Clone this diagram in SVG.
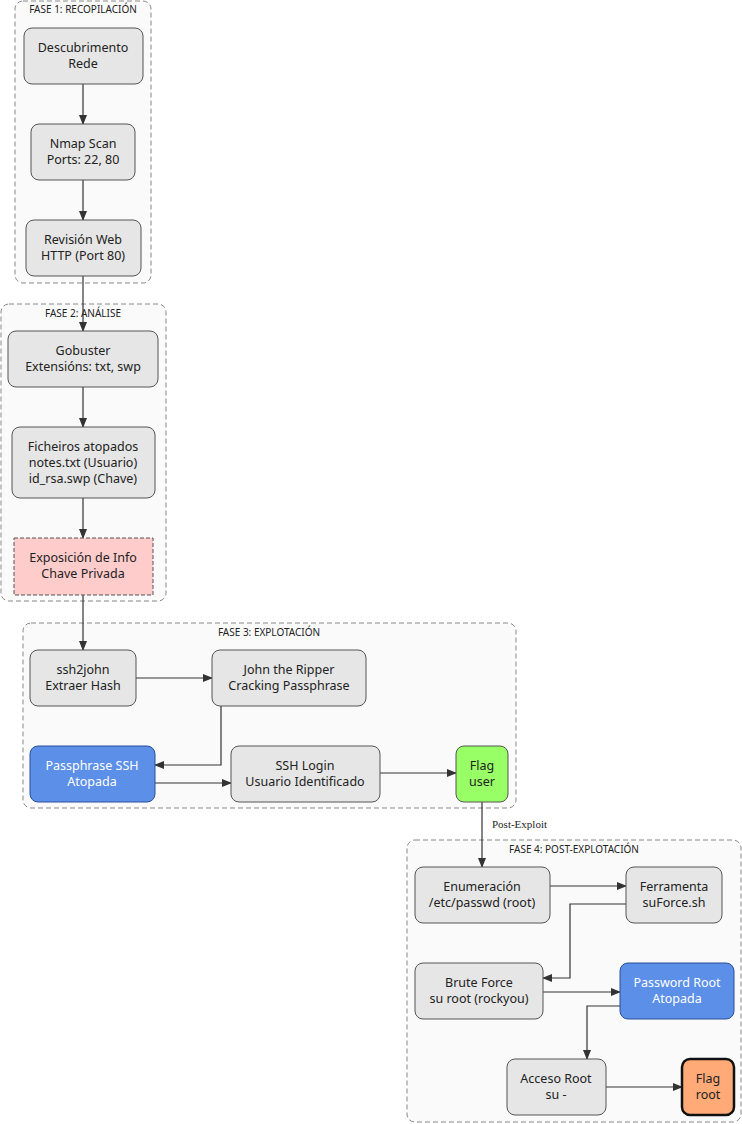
<svg xmlns="http://www.w3.org/2000/svg" width="742" height="1124" viewBox="0 0 742 1124">
<defs>
<marker id="ah" markerWidth="10" markerHeight="8" refX="9" refY="4" orient="auto" markerUnits="userSpaceOnUse"><path d="M0,0 L10,4 L0,8 z" fill="#333"/></marker>
<style>
.cl{fill:#fafafa;stroke:#888;stroke-dasharray:5,3;stroke-width:1}
.cll{font-family:"Noto Sans","DejaVu Sans",sans-serif;font-size:10px;fill:#222;text-anchor:middle}
.n{fill:#e6e6e6;stroke:#555;stroke-width:1}
.t{font-family:"Noto Sans","DejaVu Sans",sans-serif;font-size:12.5px;fill:#222;text-anchor:middle}
.w{fill:#fff}
.e{fill:none;stroke:#333;stroke-width:1.2;marker-end:url(#ah)}
</style>
</defs>
<rect width="742" height="1124" fill="#fff"/>
<g id="clusters">
<rect class="cl" x="15" y="1" width="136" height="282" rx="8"/><text class="cll" x="83" y="13">FASE 1: RECOPILACIÓN</text>
<rect class="cl" x="1" y="304" width="165" height="297" rx="8"/><text class="cll" x="83" y="317">FASE 2: ANÁLISE</text>
<rect class="cl" x="23" y="623" width="493" height="185" rx="8"/><text class="cll" x="269" y="636">FASE 3: EXPLOTACIÓN</text>
<rect class="cl" x="407" y="840" width="334" height="282" rx="8"/><text class="cll" x="574" y="853">FASE 4: POST-EXPLOTACIÓN</text>
</g>
<g id="edges">
<path class="e" d="M83,84 V124"/>
<path class="e" d="M83,180 V220"/>
<path class="e" d="M83,276 V331"/>
<path class="e" d="M83,387 V427"/>
<path class="e" d="M83,498 V538"/>
<path class="e" d="M83,595 V650"/>
<path class="e" d="M136,678 H212"/>
<path class="e" d="M221,706 V765 H155"/>
<path class="e" d="M155,783 H231"/>
<path class="e" d="M380,773 H456"/>
<path class="e" d="M482,802 V867"/>
<text x="492" y="828" font-family="Liberation Serif, serif" font-size="11" fill="#222">Post-Exploit</text>
<path class="e" d="M550,886 H626"/>
<path class="e" d="M626,904 H570 V978 H543"/>
<path class="e" d="M543,992 H620"/>
<path class="e" d="M620,1006 H587 V1059"/>
<path class="e" d="M606,1087 H682"/>
</g>
<g id="n1"><rect class="n" x="24" y="28" width="119" height="56" rx="8"/><text class="t" x="83" y="52">Descubrimento</text><text class="t" x="83" y="68">Rede</text></g>
<g id="n2"><rect class="n" x="31" y="124" width="104" height="56" rx="8"/><text class="t" x="83" y="148">Nmap Scan</text><text class="t" x="83" y="164">Ports: 22, 80</text></g>
<g id="n3"><rect class="n" x="26" y="220" width="115" height="56" rx="8"/><text class="t" x="83" y="244">Revisión Web</text><text class="t" x="83" y="260">HTTP (Port 80)</text></g>
<g id="n4"><rect class="n" x="8" y="331" width="150" height="56" rx="8"/><text class="t" x="83" y="355">Gobuster</text><text class="t" x="83" y="371">Extensións: txt, swp</text></g>
<g id="n5"><rect class="n" x="12" y="427" width="143" height="71" rx="8"/><text class="t" x="83" y="451">Ficheiros atopados</text><text class="t" x="83" y="467">notes.txt (Usuario)</text><text class="t" x="83" y="483">id_rsa.swp (Chave)</text></g>
<g id="n6"><rect x="14" y="538" width="139" height="57" fill="#ffcccc" stroke="#555" stroke-dasharray="4,2"/><text class="t" x="83" y="562">Exposición de Info</text><text class="t" x="83" y="578">Chave Privada</text></g>
<g id="n7"><rect class="n" x="30" y="650" width="106" height="56" rx="8"/><text class="t" x="83" y="674">ssh2john</text><text class="t" x="83" y="690">Extraer Hash</text></g>
<g id="n8"><rect class="n" x="212" y="650" width="154" height="56" rx="8"/><text class="t" x="289" y="674">John the Ripper</text><text class="t" x="289" y="690">Cracking Passphrase</text></g>
<g id="n9"><rect x="30" y="746" width="125" height="56" rx="8" fill="#5b8fe8" stroke="#2a4f99"/><text class="t w" x="92" y="770">Passphrase SSH</text><text class="t w" x="92" y="786">Atopada</text></g>
<g id="n10"><rect class="n" x="231" y="746" width="149" height="56" rx="8"/><text class="t" x="305" y="770">SSH Login</text><text class="t" x="305" y="786">Usuario Identificado</text></g>
<g id="n11"><rect x="456" y="746" width="52" height="56" rx="8" fill="#99ff66" stroke="#555"/><text class="t" x="482" y="770">Flag</text><text class="t" x="482" y="786">user</text></g>
<g id="n12"><rect class="n" x="415" y="867" width="135" height="56" rx="8"/><text class="t" x="482" y="891">Enumeración</text><text class="t" x="482" y="907">/etc/passwd (root)</text></g>
<g id="n13"><rect class="n" x="626" y="867" width="96" height="56" rx="8"/><text class="t" x="674" y="891">Ferramenta</text><text class="t" x="674" y="907">suForce.sh</text></g>
<g id="n14"><rect class="n" x="415" y="963" width="128" height="56" rx="8"/><text class="t" x="479" y="987">Brute Force</text><text class="t" x="479" y="1003">su root (rockyou)</text></g>
<g id="n15"><rect x="620" y="963" width="114" height="56" rx="8" fill="#5b8fe8" stroke="#2a4f99"/><text class="t w" x="677" y="987">Password Root</text><text class="t w" x="677" y="1003">Atopada</text></g>
<g id="n16"><rect class="n" x="507" y="1059" width="99" height="56" rx="8"/><text class="t" x="556" y="1083">Acceso Root</text><text class="t" x="556" y="1099">su -</text></g>
<g id="n17"><rect x="682" y="1059" width="52" height="56" rx="8" fill="#ffaa77" stroke="#111" stroke-width="2.5"/><text class="t" x="708" y="1083">Flag</text><text class="t" x="708" y="1099">root</text></g>
</svg>
